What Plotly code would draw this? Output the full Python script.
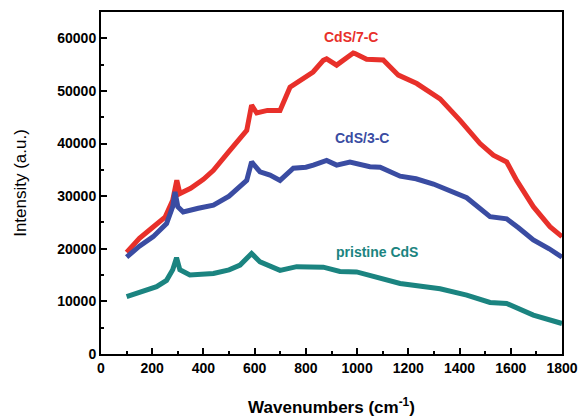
import plotly.graph_objects as go

# Raman spectra (wavenumber in cm^-1, intensity in a.u.)
x_7c = [100, 150, 200, 250, 280, 296, 308, 350, 400, 439, 500, 569, 588, 608, 650,
        699, 738, 777, 828, 868, 881, 920, 985, 992, 1037, 1102, 1161, 1233, 1324,
        1402, 1480, 1532, 1584, 1623, 1675, 1688, 1753, 1800]
y_7c = [19300, 22000, 24000, 26000, 29200, 33000, 30500, 31500, 33200, 34900, 38500,
        42500, 47300, 45800, 46300, 46300, 50700, 52000, 53600, 55800, 56100, 54900,
        57200, 57100, 56000, 55900, 53000, 51400, 48500, 44400, 40000, 37800, 36500,
        33000, 29300, 28000, 24200, 22300]

x_3c = [100, 150, 204, 256, 280, 289, 300, 321, 380, 439, 500, 569, 588, 621, 660,
        699, 751, 800, 829, 881, 920, 972, 1050, 1090, 1168, 1230, 1298, 1428, 1519,
        1584, 1630, 1688, 1750, 1800]
y_3c = [18400, 20500, 22300, 24800, 28000, 30800, 28000, 27000, 27700, 28300, 30000,
        33000, 36500, 34600, 34000, 33000, 35300, 35500, 35900, 36800, 35900, 36500,
        35600, 35500, 33800, 33300, 32300, 29700, 26100, 25700, 24000, 21700, 20000,
        18400]

x_pr = [100, 150, 217, 256, 280, 295, 308, 347, 439, 500, 543, 588, 621, 699, 764,
        868, 933, 998, 1063, 1168, 1324, 1428, 1519, 1584, 1688, 1800]
y_pr = [10900, 11800, 12800, 14000, 16000, 18300, 16000, 15000, 15300, 16000, 16900,
        19100, 17500, 15900, 16600, 16500, 15700, 15600, 14700, 13400, 12400, 11200,
        9800, 9600, 7400, 5800]

names = ["CdS/7-C", "CdS/3-C", "pristine CdS"]
colors = ["#e8302a", "#3a4ca2", "#1b8480"]
label_x = [976, 1019, 1078]
label_y = [60200, 41000, 19400]

fig = go.Figure()
for xs, ys, name, c in zip([x_7c, x_3c, x_pr], [y_7c, y_3c, y_pr], names, colors):
    fig.add_trace(go.Scatter(x=xs, y=ys, mode="lines", name=name,
                             line=dict(color=c, width=5), showlegend=False))

for name, c, lx, ly in zip(names, colors, label_x, label_y):
    fig.add_annotation(x=lx, y=ly, text=name, showarrow=False,
                       font=dict(family="Liberation Sans, Arial", size=14,
                                 color=c, weight="bold"))

tickfont = dict(family="Liberation Sans, Arial", size=14, color="black", weight="bold")

fig.update_xaxes(range=[0, 1800], tick0=0, dtick=200, showgrid=False, zeroline=False,
                 showline=True, linewidth=2, linecolor="black", mirror=True,
                 ticks="inside", ticklen=6, tickwidth=2, tickcolor="black",
                 minor=dict(ticks="inside", ticklen=3, tickwidth=2, dtick=100,
                            tickcolor="black"),
                 tickfont=tickfont, automargin=False,
                 title=dict(text="Wavenumbers (cm<sup>-1</sup>)", standoff=26,
                            font=dict(family="Liberation Sans, Arial", size=17,
                                      color="black", weight="bold")))
fig.update_yaxes(range=[0, 65000], tick0=0, dtick=10000, tickformat="d",
                 showgrid=False, zeroline=False,
                 showline=True, linewidth=2, linecolor="black", mirror=True,
                 ticks="inside", ticklen=6, tickwidth=2, tickcolor="black",
                 minor=dict(ticks="inside", ticklen=3, tickwidth=2, dtick=5000,
                            tickcolor="black"),
                 tickfont=tickfont, automargin=False,
                 title=dict(text="Intensity (a.u.)", standoff=26,
                            font=dict(family="Liberation Sans, Arial", size=17,
                                      color="black")))

fig.update_layout(width=581, height=417, margin=dict(l=101, r=19, t=12, b=63),
                  paper_bgcolor="white", plot_bgcolor="white")

fig.write_html("out.html")
